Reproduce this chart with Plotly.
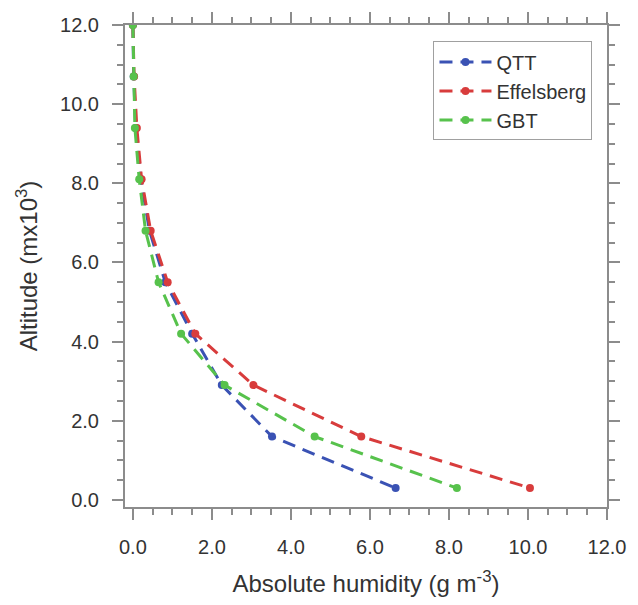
import plotly.graph_objects as go

# Altitude levels (x10^3 m) shared by all three sites
altitude = [12.0, 10.7, 9.4, 8.1, 6.8, 5.5, 4.2, 2.9, 1.6, 0.3]

# Absolute humidity (g m^-3) at each altitude level
humidity_qtt = [0.0, 0.02, 0.07, 0.20, 0.42, 0.82, 1.50, 2.25, 3.52, 6.65]
humidity_effelsberg = [0.0, 0.03, 0.10, 0.22, 0.45, 0.88, 1.58, 3.05, 5.78, 10.05]
humidity_gbt = [0.0, 0.02, 0.05, 0.16, 0.32, 0.65, 1.22, 2.32, 4.60, 8.20]

series_names = ["QTT", "Effelsberg", "GBT"]
series_values = [humidity_qtt, humidity_effelsberg, humidity_gbt]
series_colors = ["#3a52b4", "#d83c3c", "#57c24c"]

tick_vals = [0, 2, 4, 6, 8, 10, 12]
tick_text = ["0.0", "2.0", "4.0", "6.0", "8.0", "10.0", "12.0"]

font_family = "Liberation Sans, Arial, Helvetica, sans-serif"
axis_gray = "#8c8c8c"
text_color = "#333333"

fig = go.Figure()
for name, vals, color in zip(series_names, series_values, series_colors):
    fig.add_trace(go.Scatter(
        x=vals, y=altitude, name=name, mode="lines+markers",
        line=dict(color=color, width=3, dash="13px,8px"),
        marker=dict(color=color, size=8, symbol="circle"),
    ))

axis_common = dict(
    tickmode="array", tickvals=tick_vals, ticktext=tick_text,
    showgrid=False, zeroline=False,
    showline=True, linecolor=axis_gray, linewidth=2,
    mirror="ticks", ticks="outside", ticklen=11, tickwidth=2, tickcolor=axis_gray,
    minor=dict(dtick=0.5, tick0=0, ticks="outside", ticklen=6, tickwidth=1.5,
               tickcolor=axis_gray, showgrid=False),
    tickfont=dict(family=font_family, size=20, color=text_color),
)

fig.update_xaxes(
    range=[-0.2, 12], **axis_common, ticklabelstandoff=10,
    title=dict(text="Absolute humidity (g m<sup>-3</sup>)",
               font=dict(family=font_family, size=24, color=text_color), standoff=18),
)
fig.update_yaxes(
    range=[-0.18, 12], **axis_common, ticklabelstandoff=9,
    title=dict(text="Altitude (mx10<sup>3</sup>)",
               font=dict(family=font_family, size=24, color=text_color), standoff=16),
)

fig.update_layout(
    width=638, height=605,
    margin=dict(l=125, r=24, t=19, b=98),
    paper_bgcolor="white", plot_bgcolor="white",
    showlegend=True,
    legend=dict(
        x=0.64, y=0.966, xanchor="left", yanchor="top",
        bordercolor="#a0a0a0", borderwidth=1, bgcolor="white",
        font=dict(family=font_family, size=20, color=text_color),
        itemwidth=52, tracegroupgap=0,
    ),
)

fig.write_html("out.html")
